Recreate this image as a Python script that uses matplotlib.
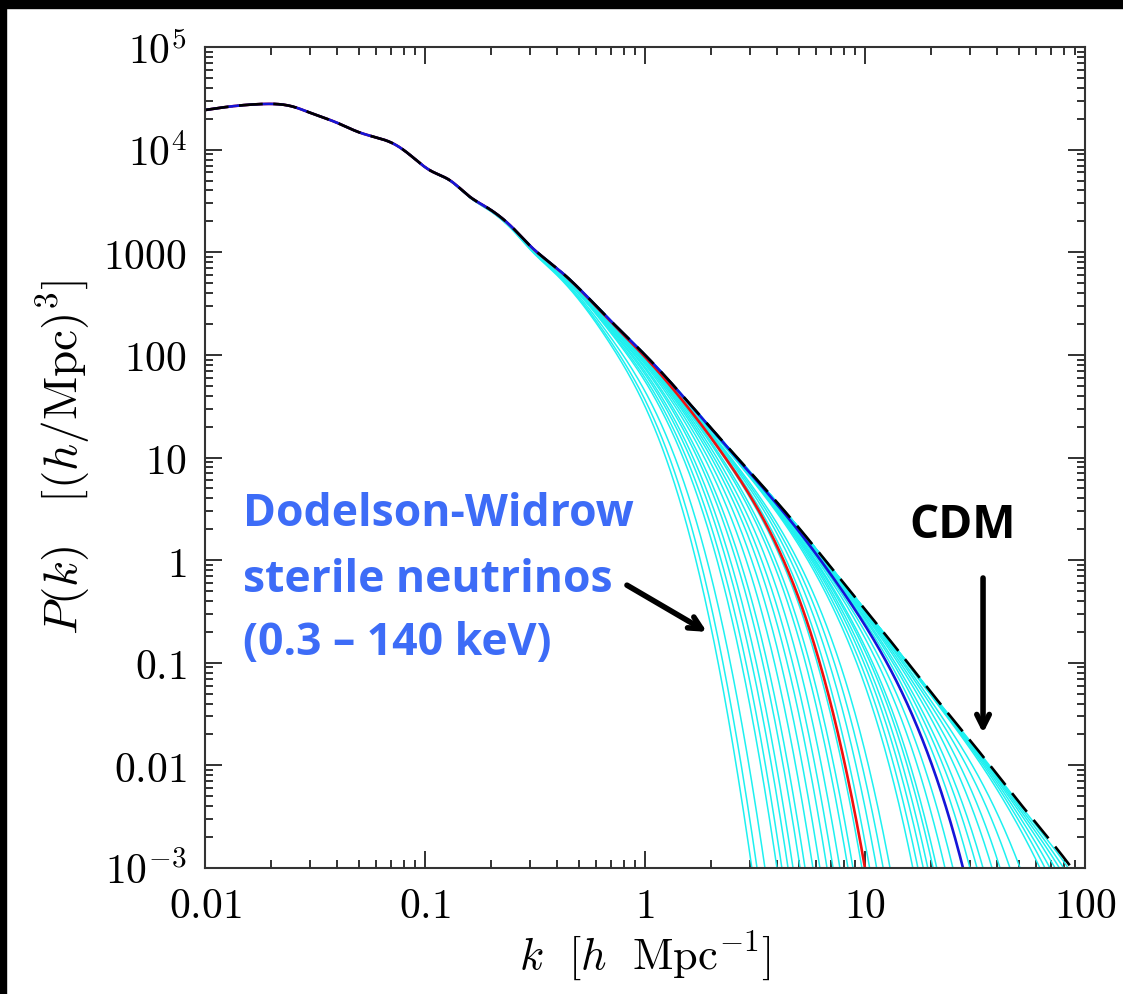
import numpy as np
import matplotlib
matplotlib.use('Agg')
import matplotlib.pyplot as plt
from matplotlib.patches import Rectangle
from matplotlib.ticker import FixedLocator, LogLocator, NullFormatter

plt.rcParams['mathtext.fontset'] = 'cm'

# CDM power spectrum (k in h/Mpc, log10 P)
k_cdm = [0.01, 0.013, 0.018, 0.025, 0.03, 0.04, 0.05, 0.062, 0.07, 0.083,
         0.105, 0.13, 0.16, 0.19, 0.25, 0.305, 0.4, 0.5, 0.7, 1.0, 1.5,
         2.36, 3.5, 5.07, 7.0, 10.0, 15.0, 20.0, 34.0, 52.0, 75.0, 100.0]
logp_cdm = [4.386, 4.42, 4.444, 4.42, 4.36, 4.26, 4.17, 4.11, 4.07, 3.97,
            3.80, 3.70, 3.54, 3.44, 3.24, 3.05, 2.84, 2.65, 2.33, 2.0, 1.59,
            1.11, 0.70, 0.30, -0.07, -0.48, -0.95, -1.29, -1.90, -2.40, -2.82, -3.17]

# k where each sterile-neutrino curve reaches P = 1e-3 (read at bottom axis)
k_cut_cyan = [3.06, 3.23, 3.51, 3.98, 4.19, 4.47, 4.71, 5.07, 5.34, 5.80,
              6.24, 6.72, 7.16, 7.69, 8.37, 8.82, 9.69, 10.5, 11.3, 12.1,
              13.0, 16.5, 17.4, 18.4, 19.3, 20.4, 21.2, 23.1, 25.1, 30.0,
              32.3, 34.4, 37.8, 41.1, 45.6, 50.7, 62.4, 65.8, 69.3, 73.1,
              76.5, 80.0, 84.0]
k_cut_red = 10.0
k_cut_blue = 27.9

xtick_vals = [0.01, 0.1, 1, 10, 100]
xtick_labels = ['$0.01$', '$0.1$', '$1$', '$10$', '$100$']
ytick_vals = [1e5, 1e4, 1e3, 1e2, 1e1, 1, 0.1, 0.01, 1e-3]
ytick_labels = ['$10^5$', '$10^4$', '$1000$', '$100$', '$10$', '$1$', '$0.1$', '$0.01$', '$10^{-3}$']


def spline(xp, yp, x):
    # natural cubic spline through the read points
    xp = np.asarray(xp, float)
    yp = np.asarray(yp, float)
    n = len(xp)
    h = np.diff(xp)
    A = np.zeros((n, n))
    b = np.zeros(n)
    A[0, 0] = A[-1, -1] = 1
    for i in range(1, n - 1):
        A[i, i - 1] = h[i - 1]
        A[i, i] = 2 * (h[i - 1] + h[i])
        A[i, i + 1] = h[i]
        b[i] = 6 * ((yp[i + 1] - yp[i]) / h[i] - (yp[i] - yp[i - 1]) / h[i - 1])
    M = np.linalg.solve(A, b)
    j = np.clip(np.searchsorted(xp, x) - 1, 0, n - 2)
    t1 = xp[j + 1] - x
    t0 = x - xp[j]
    hj = h[j]
    return (M[j] * t1 ** 3 / (6 * hj) + M[j + 1] * t0 ** 3 / (6 * hj)
            + (yp[j] / hj - M[j] * hj / 6) * t1 + (yp[j + 1] / hj - M[j + 1] * hj / 6) * t0)


nu = 1.12
k = np.logspace(-2, 2, 1500)
logp = spline(np.log10(k_cdm), logp_cdm, np.log10(k))


def wdm(kc):
    # suppression (1+(a k)^(2nu))^(-10/nu), a chosen so the curve hits 1e-3 at kc
    lp_c = spline(np.log10(k_cdm), logp_cdm, np.array([np.log10(kc)]))[0]
    r = max(lp_c + 3.0, 1e-3)
    a = (10 ** (r * nu / 10.0) - 1) ** (1 / (2 * nu)) / kc
    return 10 ** (logp - 10.0 / nu * np.log10(1 + (a * k) ** (2 * nu)))


fig = plt.figure(figsize=(11.23, 9.94), dpi=100)
ax = fig.add_axes([205 / 1123, 1 - 868 / 994, 880 / 1123, 821 / 994])

for kc in k_cut_cyan:
    ax.plot(k, wdm(kc), color='#1ef0f0', lw=1.1)
ax.plot(k, wdm(k_cut_red), color='#f01010', lw=1.9)
ax.plot(k, wdm(k_cut_blue), color='#1515d8', lw=1.9)
ax.plot(k, 10 ** logp, color='black', lw=1.9, dashes=(9, 4))

ax.set_xscale('log')
ax.set_yscale('log')
ax.set_xlim(0.01, 100)
ax.set_ylim(1e-3, 1e5)

ax.xaxis.set_major_locator(FixedLocator(xtick_vals))
ax.set_xticklabels(xtick_labels)
ax.yaxis.set_major_locator(FixedLocator(ytick_vals))
ax.set_yticklabels(ytick_labels)
ax.xaxis.set_minor_locator(LogLocator(base=10, subs=np.arange(2, 10), numticks=20))
ax.yaxis.set_minor_locator(LogLocator(base=10, subs=np.arange(2, 10), numticks=20))
ax.xaxis.set_minor_formatter(NullFormatter())
ax.yaxis.set_minor_formatter(NullFormatter())
ax.tick_params(which='both', direction='in', top=True, right=True, width=1.3, color='#222222')
ax.tick_params(which='major', length=12, labelsize=30)
ax.tick_params(which='minor', length=6)
ax.tick_params(axis='x', which='major', pad=12)
ax.tick_params(axis='y', which='major', pad=13)
for s in ax.spines.values():
    s.set_linewidth(1.5)
    s.set_color('#333333')

ax.set_xlabel(r'$k\ \ [h\ \ \mathrm{Mpc}^{-1}]$', fontsize=32, labelpad=2)
ax.set_ylabel(r'$P(k)\quad[(h/\mathrm{Mpc})^3]$', fontsize=34, labelpad=8)

blue_txt = '#3d6cf7'
ax.text(0.0149, 2.77, 'Dodelson-Widrow', color=blue_txt, fontsize=32,
        family='Open Sans', weight='bold', ha='left', va='center')
ax.text(0.0149, 0.64, 'sterile neutrinos', color=blue_txt, fontsize=32,
        family='Open Sans', weight='bold', ha='left', va='center')
ax.text(0.0149, 0.155, '(0.3 \u2013 140 keV)', color=blue_txt, fontsize=32,
        family='Open Sans', weight='bold', ha='left', va='center')
ax.text(27.9, 2.19, 'CDM', color='black', fontsize=33,
        family='Open Sans', weight='bold', ha='center', va='center')

arrow = dict(arrowstyle='->,head_length=0.9,head_width=0.45', lw=4, color='black',
             shrinkA=0, shrinkB=0)
ax.annotate('', xy=(1.91, 0.2), xytext=(0.828, 0.57), arrowprops=arrow)
ax.annotate('', xy=(34.4, 0.0206), xytext=(34.4, 0.67), arrowprops=arrow)

# black frame strips at top and left of the original slide
fig.add_artist(Rectangle((0, 1 - 8 / 994), 1, 8 / 994, transform=fig.transFigure, color='black'))
fig.add_artist(Rectangle((0, 0), 6 / 1123, 1, transform=fig.transFigure, color='black'))

fig.savefig('out.png', dpi=100)
